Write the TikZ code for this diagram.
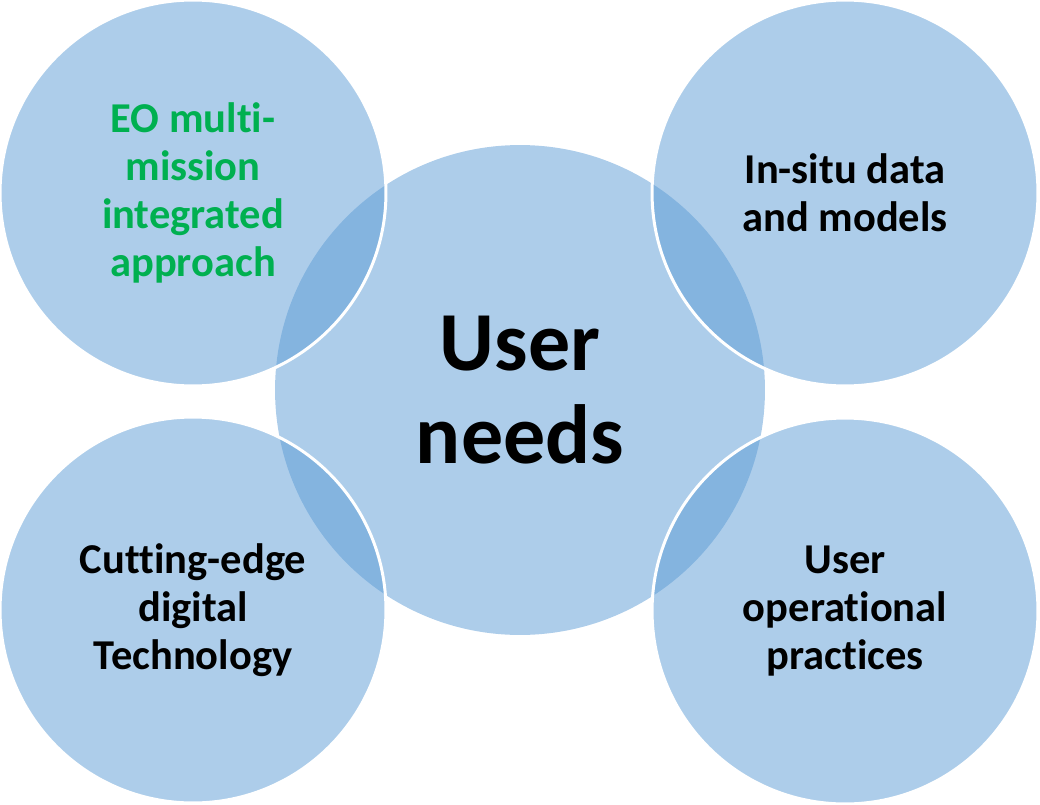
\documentclass[tikz,border=0pt]{standalone}
\usepackage{fontspec}
\setmainfont{Carlito}[Ligatures=NoCommon]
\definecolor{vennblue}{HTML}{5B9BD5}
\definecolor{eogreen}{HTML}{00B050}
\tikzset{
  bubble/.style={circle, fill=vennblue, fill opacity=0.5, text opacity=1,
    align=center, inner sep=0pt, font=\bfseries\fontsize{24.2}{27.3}\selectfont},
  side/.style={bubble, draw=white, line width=1.7pt, minimum size=7.72cm},
}
\begin{document}
\begin{tikzpicture}[x=0.02cm, y=-0.02cm]
  \useasboundingbox (0,0) rectangle (1040,804);

  % Centre circle
  \node[bubble, minimum size=9.8cm, font=\bfseries\fontsize{47.8}{52.9}\selectfont]
    (needs) at (520,390) {User\\needs};

  % Surrounding circles
  \node[side, text=eogreen] (eo) at (193,193)
    {EO multi-\\mission\\integrated\\approach};
  \node[side] (insitu) at (845,193) {In-situ data\\and models};
  \node[side] (digital) at (193,610) {Cutting-edge\\digital\\Technology};
  \node[side] (practice) at (845,611) {User\\operational\\practices};
\end{tikzpicture}
\end{document}
